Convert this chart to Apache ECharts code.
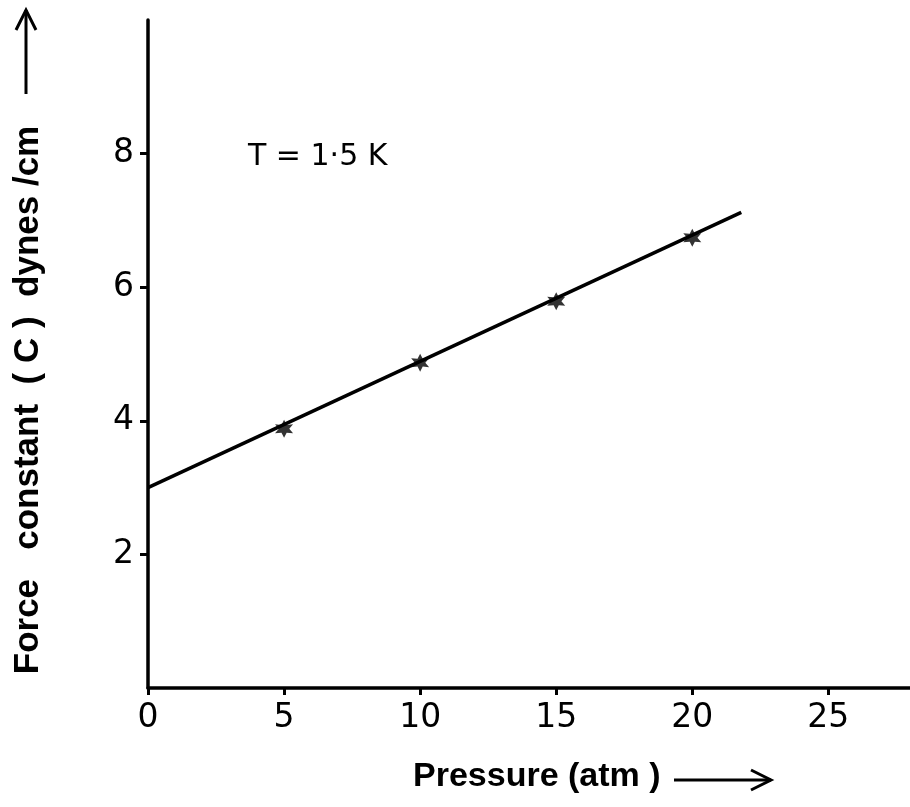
<!DOCTYPE html>
<html>
<head>
<meta charset="utf-8">
<script src="https://cdn.jsdelivr.net/npm/echarts@6/dist/echarts.min.js"></script>
<style>
html,body{margin:0;padding:0;background:#fff;}
#chart{width:910px;height:807px;}
</style>
</head>
<body>
<div id="chart"></div>
<script>
// Data
const pressure = [5, 10, 15, 20];
const forceConst = [3.88, 4.87, 5.79, 6.74];
const fitX = [0, 21.8];
const fitY = [3.0, 7.12];
const xTickValues = [0, 5, 10, 15, 20, 25];
const yTickValues = [2, 4, 6, 8];
const annotation = 'T = 1·5 K';

const FONT = 'DejaVu Sans';
const LFONT = 'Liberation Sans';
const chart = echarts.init(document.getElementById('chart'));

const starPath = (function () {
  // 6-armed asterisk polygon
  const pts = [];
  const R = 10, r = 5;
  for (let i = 0; i < 12; i++) {
    const a = Math.PI / 2 + i * Math.PI / 6;
    const rad = i % 2 === 0 ? R : r;
    pts.push((rad * Math.cos(a)).toFixed(2) + ',' + (-rad * Math.sin(a)).toFixed(2));
  }
  return 'path://M' + pts.join('L') + 'Z';
})();

chart.setOption({
  backgroundColor: '#fff',
  animation: false,
  grid: { left: 148, top: 20, right: 0, bottom: 119, containLabel: false },
  xAxis: {
    type: 'value', min: 0, max: 28, interval: 5,
    splitLine: { show: false },
    axisLine: { show: true, lineStyle: { color: '#000', width: 3.5 } },
    axisTick: { show: true, customValues: xTickValues, inside: false, length: 7, lineStyle: { color: '#000', width: 3 } },
    axisLabel: { customValues: xTickValues, margin: 14, color: '#000', fontFamily: FONT, fontSize: 33 }
  },
  yAxis: {
    type: 'value', min: 0, max: 10, interval: 2,
    splitLine: { show: false },
    axisLine: { show: true, onZero: false, lineStyle: { color: '#000', width: 3.5 } },
    axisTick: { show: true, customValues: yTickValues, length: 8, lineStyle: { color: '#000', width: 3 } },
    axisLabel: { customValues: yTickValues, margin: 14, color: '#000', fontFamily: FONT, fontSize: 33 }
  },
  series: [
    {
      type: 'line',
      data: fitX.map((x, i) => [x, fitY[i]]),
      showSymbol: false,
      lineStyle: { color: '#000', width: 3.5 },
      silent: true
    },
    {
      type: 'scatter',
      data: pressure.map((p, i) => [p, forceConst[i]]),
      symbol: starPath,
      symbolSize: 18,
      itemStyle: { color: '#000' },
      z: 5
    }
  ],
  graphic: [
    {
      type: 'text', left: 248, top: 142,
      style: { text: annotation, fontFamily: FONT, fontSize: 30, fill: '#000' }
    },
    {
      type: 'text', x: 28, y: 400, rotation: Math.PI / 2,
      style: { text: 'Force   constant  ( C )  dynes /cm', fontFamily: LFONT, fontSize: 35, fontWeight: 'bold', fill: '#000', align: 'center', verticalAlign: 'middle' }
    },
    {
      type: 'polyline',
      shape: { points: [[26, 94], [26, 10]] },
      style: { stroke: '#000', lineWidth: 3 }
    },
    {
      type: 'polyline',
      shape: { points: [[16, 30], [26, 10], [36, 30]] },
      style: { stroke: '#000', lineWidth: 3, fill: null }
    },
    {
      type: 'text', left: 413, top: 760,
      style: { text: 'Pressure (atm )', fontFamily: LFONT, fontSize: 34, fontWeight: 'bold', fill: '#000' }
    },
    {
      type: 'polyline',
      shape: { points: [[674, 780], [771, 780]] },
      style: { stroke: '#000', lineWidth: 3 }
    },
    {
      type: 'polyline',
      shape: { points: [[751, 770], [771, 780], [751, 790]] },
      style: { stroke: '#000', lineWidth: 3, fill: null }
    }
  ]
});
</script>
</body>
</html>
